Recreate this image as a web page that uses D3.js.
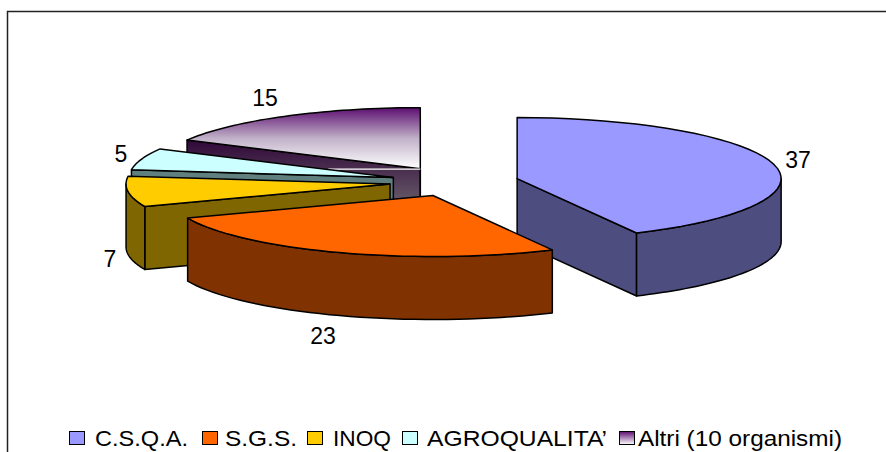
<!DOCTYPE html>
<html><head><meta charset="utf-8">
<script src="https://cdnjs.cloudflare.com/ajax/libs/d3/7.8.5/d3.min.js"></script>
<style>html,body{margin:0;padding:0;background:#fff;overflow:hidden}svg{display:block}text{font-family:"Liberation Sans",Arial,sans-serif;fill:#000}</style>
</head><body><svg id="c" width="886" height="452"></svg>
<script>
const categories = ["C.S.Q.A.","S.G.S.","INOQ","AGROQUALITA’","Altri (10 organismi)"];
const values = [37,23,7,5,15];
const topColors = ["#9999ff","#ff6600","#ffcc00","#ccffff",null];
const wallColors = ["#4d4d80","#803300","#806600","#608080",null];
const explode = [0.242,0.237,0.248,0.245,0.255];
const labelPos = [[798,160],[323,336],[110,259],[121,154],[265,98]];
const legendSwatchX = [69,202,307,402,619];
const legendTextX = [95,225,333,427,638];
const legendTextW = [93,72,58,180,204];

const cx=455, cy=182, rx=264, ry=61, depth=63;
const svg=d3.select("#c");
const defs=svg.append("defs");
const grad=(id,stops)=>{const g=defs.append("linearGradient").attr("id",id).attr("x1",0).attr("y1",0).attr("x2",0).attr("y2",1);
  stops.forEach(s=>g.append("stop").attr("offset",s[0]).attr("stop-color",s[1]));};
grad("pTop",[[0,"#5c0f70"],[.5,"#c0b0c8"],[1,"#ffffff"]]);
grad("pWall",[[0,"#300838"],[1,"#7f7f7f"]]);
grad("pLeg",[[0,"#5c0f70"],[1,"#ffffff"]]);

// frame
svg.append("path").attr("d","M7.5,452V11.5H886").attr("fill","none").attr("stroke","#222").attr("stroke-width",1.5);

const arcs=d3.pie().sort(null).startAngle(0).endAngle(2*Math.PI)(values);
const line=d3.line();
const sample=(a0,a1)=>d3.range(0,41).map(i=>a0+(a1-a0)*i/40);
const fillOf=(i,kind)=> i===4 ? (kind==="top"?"url(#pTop)":"url(#pWall)") : (kind==="top"?topColors[i]:wallColors[i]);
const order=[4,3,2,0,1];
const g=svg.append("g");
order.forEach(i=>{
  const a=arcs[i], mid=(a.startAngle+a.endAngle)/2;
  const ax=cx+rx*explode[i]*Math.sin(mid), ay=cy-ry*explode[i]*Math.cos(mid);
  const P=(t,d=0)=>[ax+rx*Math.sin(t), ay-ry*Math.cos(t)+d];
  const style=(s,k)=>s.attr("fill",fillOf(i,k)).attr("stroke","#000").attr("stroke-width",1.5).attr("stroke-linejoin","round");
  // radial walls facing the viewer
  const radial=t=>style(g.append("path").attr("d",line([[ax,ay],P(t),P(t,depth),[ax,ay+depth]])+"Z"),"wall");
  if(a.endAngle<Math.PI) radial(a.endAngle);
  if(a.startAngle>Math.PI) radial(a.startAngle);
  if(a.endAngle>=2*Math.PI-1e-6) g.append("path").attr("d",line([[ax,ay],[ax,ay+depth]])).attr("stroke","#000").attr("stroke-width",1.5);
  // outer wall on the front half of the ellipse
  const lo=Math.max(a.startAngle,Math.PI/2), hi=Math.min(a.endAngle,3*Math.PI/2);
  if(hi>lo){
    const ts=sample(lo,hi);
    style(g.append("path").attr("d",line(ts.map(t=>P(t)).concat(ts.slice().reverse().map(t=>P(t,depth))))+"Z"),"wall");
  }
  // top
  style(g.append("path").attr("d",line([[ax,ay]].concat(sample(a.startAngle,a.endAngle).map(t=>P(t))))+"Z"),"top");
  if(i===4) g.append("path").attr("d",line([[ax-92,ay+.5],[ax,ay+.5]])).attr("stroke","#fff").attr("stroke-width",1.2);
});

// data labels
svg.append("g").selectAll("text").data(values).join("text")
  .attr("x",(d,i)=>labelPos[i][0]).attr("y",(d,i)=>labelPos[i][1]).attr("dy","0.35em")
  .attr("text-anchor","middle").attr("font-size",23).text(d=>d);

// legend
const leg=svg.append("g").selectAll("g").data(categories).join("g");
leg.append("rect").attr("x",(d,i)=>legendSwatchX[i]+.5).attr("y",431.5).attr("width",15).attr("height",13)
  .attr("fill",(d,i)=>i===4?"url(#pLeg)":topColors[i]).attr("stroke","#000").attr("stroke-width",1);
leg.append("text").attr("x",(d,i)=>legendTextX[i]).attr("y",445.5).attr("font-size",22)
  .attr("textLength",(d,i)=>legendTextW[i]).attr("lengthAdjust","spacingAndGlyphs").text(d=>d);
</script></body></html>
